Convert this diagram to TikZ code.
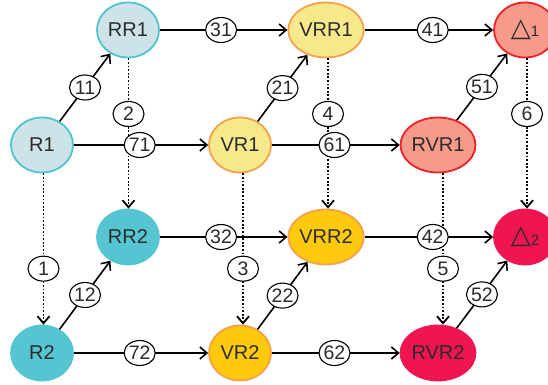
\documentclass[tikz,border=0pt]{standalone}
\usepackage{fontspec}
\setmainfont{Liberation Sans}
\newfontfamily\symfont{DejaVu Sans}
\usetikzlibrary{shapes.geometric,arrows.meta}
\definecolor{txtgray}{HTML}{2B2B2B}
\definecolor{paleblue}{HTML}{CDE3E7}
\definecolor{tealline}{HTML}{4DC4CF}
\definecolor{teal2}{HTML}{55C5D1}
\definecolor{paleyellow}{HTML}{F8E88C}
\definecolor{orangeline}{HTML}{F5A04A}
\definecolor{amber}{HTML}{FFC90E}
\definecolor{salmon}{HTML}{F69B8B}
\definecolor{redline}{HTML}{EC2227}
\definecolor{crimson}{HTML}{EE1550}
\begin{document}
\begin{tikzpicture}[x=1pt,y=1pt,
  state/.style={ellipse, minimum width=62pt, minimum height=55pt, line width=1.8pt,
    inner sep=0pt, text=txtgray, font=\fontsize{20}{21}\selectfont},
  blue1/.style={state, fill=paleblue, draw=tealline},
  blue2/.style={state, fill=teal2, draw=teal2},
  yel1/.style={state, fill=paleyellow, draw=orangeline},
  yel2/.style={state, fill=amber, draw=orangeline},
  red1/.style={state, fill=salmon, draw=redline},
  red2/.style={state, fill=crimson, draw=crimson},
  lbl/.style={ellipse, solid, draw=black, fill=white, line width=1.1pt, minimum width=31pt,
    minimum height=25pt, inner sep=0pt, text=txtgray, font=\fontsize{19.5}{20}\selectfont},
  tip/.style={-{Straight Barb[length=7pt,width=12pt]}},
  solidedge/.style={tip, line width=1.6pt, black},
  dotedge/.style={tip, line width=1.8pt, black, dash pattern=on 1.8pt off 1.8pt}
]
\useasboundingbox (0,0) rectangle (548,384);
\clip (0,0) rectangle (548,384);

% nodes
\node[blue1] (R1)   at (42,239)  {R1};
\node[blue1] (RR1)  at (128,354) {RR1};
\node[yel1]  (VR1)  at (240,239) {VR1};
\node[yel1]  (VRR1) at (326,354) {VRR1};
\node[red1]  (RVR1) at (438,239) {RVR1};
\node[red1]  (D1)   at (525,354) {{\symfont\bfseries\fontsize{26}{26}\selectfont △}{\fontsize{15}{15}\selectfont 1}};

\node[blue2] (R2)   at (42,31)   {R2};
\node[blue2] (RR2)  at (128,147) {RR2};
\node[yel2]  (VR2)  at (240,31)  {VR2};
\node[yel2]  (VRR2) at (326,147) {VRR2};
\node[red2]  (RVR2) at (438,31)  {RVR2};
\node[red2]  (D2)   at (525,147) {{\symfont\bfseries\fontsize{26}{26}\selectfont △}{\fontsize{15}{15}\selectfont\raisebox{-2pt}{2}}};

% dotted vertical connectors
\draw[dotedge] ([xshift=1.5pt]R1.south)   -- node[lbl, pos=0.63] {1} ([xshift=1.5pt]R2.north);
\draw[dotedge] ([xshift=0.5pt]RR1.south)  -- node[lbl, pos=0.37] {2} ([xshift=0.5pt]RR2.north);
\draw[dotedge] ([xshift=3pt]VR1.south)    -- node[lbl, pos=0.63] {3} ([xshift=3pt]VR2.north);
\draw[dotedge] ([xshift=2pt]VRR1.south)   -- node[lbl, pos=0.37] {4} ([xshift=2pt]VRR2.north);
\draw[dotedge] ([xshift=5pt]RVR1.south)   -- node[lbl, pos=0.63] {5} ([xshift=5pt]RVR2.north);
\draw[dotedge] ([xshift=2pt]D1.south)     -- node[lbl, pos=0.37] {6} ([xshift=2pt]D2.north);

% solid connectors, top layer
\draw[solidedge] (R1) -- node[lbl] {11} (RR1);
\draw[solidedge] (RR1) -- node[lbl, pos=0.48] {31} (VRR1);
\draw[solidedge] (R1) -- node[lbl, pos=0.49] {71} (VR1);
\draw[solidedge] (VR1) -- node[lbl] {21} (VRR1);
\draw[solidedge] (VRR1) -- node[lbl, pos=0.53] {41} (D1);
\draw[solidedge] (VR1) -- node[lbl, pos=0.49] {61} (RVR1);
\draw[solidedge] (RVR1) -- node[lbl] {51} (D1);

% solid connectors, bottom layer
\draw[solidedge] (R2) -- node[lbl] {12} (RR2);
\draw[solidedge] (RR2) -- node[lbl, pos=0.48] {32} (VRR2);
\draw[solidedge] (R2) -- node[lbl, pos=0.49] {72} (VR2);
\draw[solidedge] (VR2) -- node[lbl] {22} (VRR2);
\draw[solidedge] (VRR2) -- node[lbl, pos=0.53] {42} (D2);
\draw[solidedge] (VR2) -- node[lbl, pos=0.49] {62} (RVR2);
\draw[solidedge] (RVR2) -- node[lbl] {52} (D2);
\end{tikzpicture}
\end{document}
